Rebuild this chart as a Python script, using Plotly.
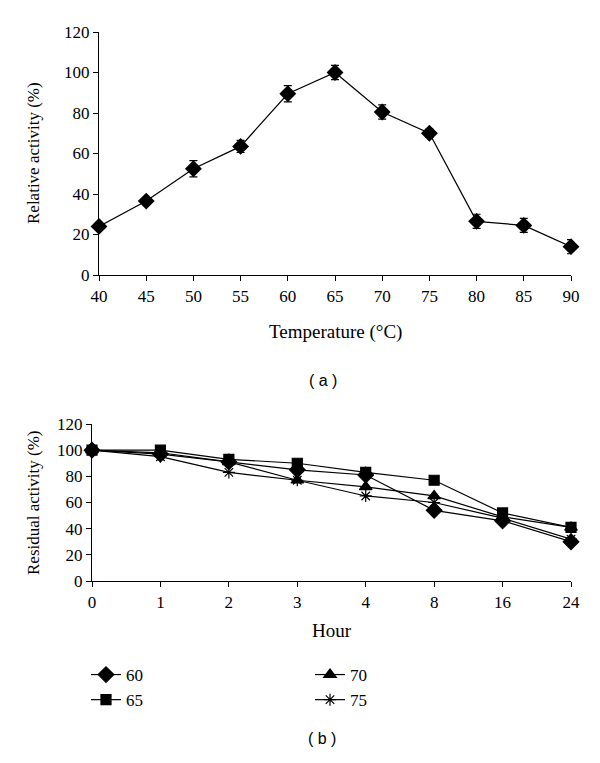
import plotly.graph_objects as go

# ---- data: panel (a)
temperature = [40, 45, 50, 55, 60, 65, 70, 75, 80, 85, 90]
relative_activity = [24, 36.5, 52.5, 63.5, 89.5, 100, 80.5, 70, 26.5, 24.5, 14]
relative_err = [2, 1.5, 4, 3, 4, 3.5, 3.5, 2, 3.5, 3.5, 3.5]

# ---- data: panel (b)
hours = ["0", "1", "2", "3", "4", "8", "16", "24"]
res_60 = [100, 97, 91, 85, 81, 54, 46, 30]
res_65 = [100, 100, 93, 90, 83, 77, 52, 41]
res_70 = [100, 98, 91, 77, 72, 65, 49, 41]
res_75 = [100, 95, 83, 77, 65, 60, 48, 32]

W, H = 600, 763
OFF = 8  # page body margin
def px(x):
    return (x - OFF) / W
def py(y):
    return 1 - (y - OFF) / H

SERIF = "Liberation Serif"
SANS = "Liberation Sans"

fig = go.Figure()

fig.add_trace(go.Scatter(
    x=temperature, y=relative_activity,
    mode="lines+markers",
    line=dict(color="black", width=1.2),
    marker=dict(symbol="diamond", size=13, color="black"),
    error_y=dict(type="data", array=relative_err, color="black", thickness=1.2, width=4),
    cliponaxis=False, showlegend=False,
    xaxis="x", yaxis="y",
))

pos = list(range(len(hours)))
series = [
    ("60", res_60, "diamond", 12, "legend"),
    ("65", res_65, "square", 10, "legend"),
    ("70", res_70, "triangle-up", 11, "legend2"),
    ("75", res_75, "asterisk-open", 10, "legend2"),
]
for name, vals, sym, size, lg in series:
    fig.add_trace(go.Scatter(
        x=pos, y=vals, name=name,
        mode="lines+markers",
        line=dict(color="black", width=1.2),
        marker=dict(symbol=sym, size=size, color="black",
                    line=dict(color="black", width=1.2)),
        cliponaxis=False, legend=lg,
        xaxis="x2", yaxis="y2",
    ))

axis_common = dict(
    showline=True, linecolor="black", linewidth=1.2,
    ticks="outside", ticklen=5, tickwidth=1.2, tickcolor="black",
    showgrid=False, zeroline=False, automargin=False,
    tickfont=dict(family=SERIF, size=17, color="black"),
)

fig.update_layout(
    width=W, height=H,
    margin=dict(l=0, r=0, t=0, b=0, autoexpand=False),
    paper_bgcolor="white", plot_bgcolor="white",
    xaxis=dict(domain=[px(99), px(571)], range=[40, 90], tickvals=temperature,
               anchor="y", **axis_common),
    yaxis=dict(domain=[py(275), py(32)], range=[0, 120], dtick=20,
               anchor="x", **axis_common),
    xaxis2=dict(domain=[px(92), px(571)], range=[0, 7], tickvals=pos, ticktext=hours,
                anchor="y2", **axis_common),
    yaxis2=dict(domain=[py(581), py(424)], range=[0, 120], dtick=20,
                anchor="x2", **axis_common),
    legend=dict(x=px(86), y=py(657), xanchor="left", yanchor="top",
                font=dict(family=SERIF, size=17, color="black"),
                bgcolor="rgba(0,0,0,0)", tracegroupgap=0, itemwidth=30),
    legend2=dict(x=px(310), y=py(657), xanchor="left", yanchor="top",
                 font=dict(family=SERIF, size=17, color="black"),
                 bgcolor="rgba(0,0,0,0)", tracegroupgap=0, itemwidth=30),
)

annotations = [
    dict(text="Relative activity (%)", x=px(33), y=py(153), textangle=-90,
         font=dict(family=SERIF, size=17, color="black")),
    dict(text="Temperature (°C)", x=px(335), y=py(332),
         font=dict(family=SERIF, size=19, color="black")),
    dict(text="( a )", x=px(323), y=py(380),
         font=dict(family=SANS, size=16, color="black")),
    dict(text="Residual activity (%)", x=px(33), y=py(503), textangle=-90,
         font=dict(family=SERIF, size=17, color="black")),
    dict(text="Hour", x=px(332), y=py(630),
         font=dict(family=SERIF, size=19, color="black")),
    dict(text="( b )", x=px(322), y=py(738),
         font=dict(family=SANS, size=16, color="black")),
]
for a in annotations:
    fig.add_annotation(xref="paper", yref="paper", showarrow=False,
                       xanchor="center", yanchor="middle", **a)

fig.write_html("out.html")
